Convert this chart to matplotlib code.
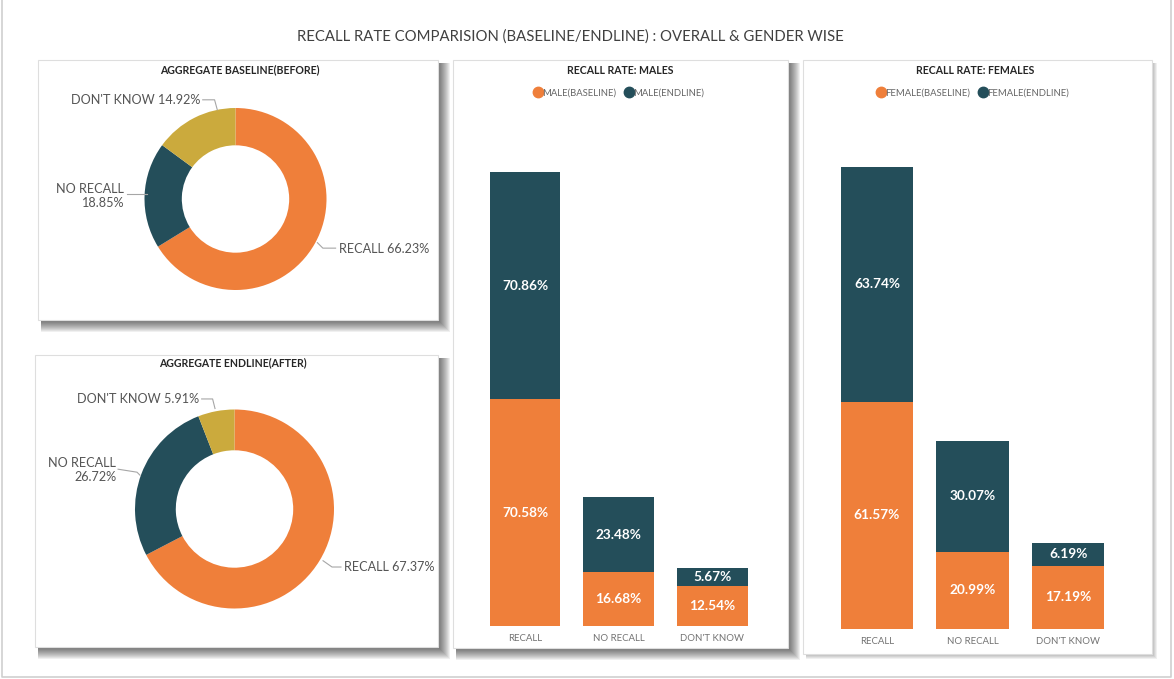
import matplotlib
matplotlib.use('Agg')
import matplotlib.pyplot as plt
from matplotlib.patches import Rectangle
from matplotlib.lines import Line2D

plt.rcParams['font.family'] = ['Lato', 'DejaVu Sans']

# Recall rates (%) per answer category
categories = ['RECALL', 'NO RECALL', "DON'T KNOW"]
baseline_overall = [66.23, 18.85, 14.92]
endline_overall = [67.37, 26.72, 5.91]
male_baseline = [70.58, 16.68, 12.54]
male_endline = [70.86, 23.48, 5.67]
female_baseline = [61.57, 20.99, 17.19]
female_endline = [63.74, 30.07, 6.19]

ORANGE = '#EF7F3A'
TEAL = '#244E5A'
GOLD = '#CBAA3D'
LABEL_GREY = '#555555'

W, H = 1174, 679
fig = plt.figure(figsize=(W / 100, H / 100), dpi=100)


def rect(x0, y0, x1, y1):
    # pixel box (top-left origin) -> figure fraction [left, bottom, width, height]
    return [x0 / W, 1 - y1 / H, (x1 - x0) / W, (y1 - y0) / H]


def panel(x0, y0, x1, y1, depth=12):
    for d in range(depth, 0, -1):
        l, b, w, h = rect(x0 + 3, y0 + 3, x1 + d, y1 + d)
        fig.add_artist(Rectangle((l, b), w, h, transform=fig.transFigure,
                                 facecolor='black', edgecolor='none', alpha=0.06, zorder=-3))
    l, b, w, h = rect(x0, y0, x1, y1)
    fig.add_artist(Rectangle((l, b), w, h, transform=fig.transFigure,
                             facecolor='white', edgecolor='#dedede', lw=0.8, zorder=-2))


# outer frame
fig.add_artist(Line2D([2 / W, 2 / W, 1171 / W, 1171 / W], [1, 1 - 677 / H, 1 - 677 / H, 1],
                      transform=fig.transFigure, color='#cfcfcf', lw=1.2, zorder=-4))

panel(38, 60, 438, 320)
panel(35, 355, 438, 647)
panel(453, 60, 788, 648)
panel(803, 60, 1152, 654, depth=5)

fig.text(570 / W, 1 - 37 / H, 'RECALL RATE COMPARISION (BASELINE/ENDLINE) : OVERALL & GENDER WISE',
         ha='center', va='center', fontsize=10.7, color='#404040')


def donut(values, cx, cy, r, title, title_xy, labels):
    k = 1.9
    ax = fig.add_axes(rect(cx - k * r, cy - k * r, cx + k * r, cy + k * r))
    ax.pie(values, colors=[ORANGE, TEAL, GOLD], startangle=90, counterclock=False,
           radius=1, wedgeprops=dict(width=0.41, edgecolor='none'))
    ax.set_xlim(-k, k)
    ax.set_ylim(-k, k)
    ax.set_aspect('equal')
    ax.axis('off')
    ax.patch.set_alpha(0)
    for (tx, ty, ha, path), cat, val in zip(labels, categories, values):
        name = 'NO RECALL\n' if cat == 'NO RECALL' else cat + ' '
        ax.text(tx, ty, f'{name}{val:.2f}%', ha=ha, va='center', fontsize=9.1,
                color=LABEL_GREY, linespacing=1.2, multialignment='right')
        xs, ys = zip(*path)
        ax.plot(xs, ys, color='#a6a6a6', lw=0.8)
    fig.text(title_xy[0] / W, 1 - title_xy[1] / H, title, ha='center', va='center',
             fontsize=7.6, fontweight='bold', color='#262626')


donut(baseline_overall, 235.5, 199, 91, 'AGGREGATE BASELINE(BEFORE)', (240, 70), [
    (1.14, -0.55, 'left', [(0.90, -0.48), (0.96, -0.54), (1.10, -0.54)]),
    (-1.225, 0.03, 'right', [(-1.19, 0.055), (-0.97, 0.055)]),
    (-0.39, 1.09, 'right', [(-0.36, 1.09), (-0.23, 1.09), (-0.20, 0.98)]),
])
donut(endline_overall, 234.5, 509, 99.5, 'AGGREGATE ENDLINE(AFTER)', (233, 363), [
    (1.10, -0.583, 'left', [(0.89, -0.52), (0.98, -0.583), (1.07, -0.583)]),
    (-1.19, 0.39, 'right', [(-1.17, 0.40), (-0.98, 0.37), (-0.95, 0.34)]),
    (-0.357, 1.106, 'right', [(-0.33, 1.106), (-0.22, 1.106), (-0.196, 1.01)]),
])


def stacked(base, end, box, ymax, title, title_x, legend_x, names):
    ax = fig.add_axes(rect(*box))
    ax.patch.set_alpha(0)
    x = range(len(categories))
    b1 = ax.bar(x, base, width=0.755, color=ORANGE)
    b2 = ax.bar(x, end, width=0.755, bottom=base, color=TEAL)
    for bars in (b1, b2):
        ax.bar_label(bars, labels=[f'{v:.2f}%' for v in bars.datavalues], label_type='center',
                     color='white', fontsize=9.8, fontweight='bold')
    ax.set_xlim(-0.7, 2.7)
    ax.set_ylim(0, ymax)
    ax.set_yticks([])
    ax.set_xticks(list(x))
    ax.set_xticklabels(categories, fontsize=6.9, color='#737373')
    ax.tick_params(axis='x', length=0, pad=6)
    for s in ax.spines.values():
        s.set_visible(False)
    fig.text(title_x / W, 1 - 70 / H, title, ha='center', va='center',
             fontsize=7.6, fontweight='bold', color='#262626')
    handles = [Line2D([], [], marker='o', ls='', color=c, markersize=7.5, label=n)
               for c, n in zip([ORANGE, TEAL], names)]
    fig.legend(handles=handles, ncol=2, loc='center', bbox_to_anchor=(legend_x / W, 1 - 93 / H),
               frameon=False, fontsize=6.8, handletextpad=0.1, columnspacing=0.9,
               handlelength=0.8, labelcolor='#666666', borderpad=0)


stacked(male_baseline, male_endline, (459.4, 160, 778, 626), (626 - 160) / 3.21,
        'RECALL RATE: MALES', 620, 619, ['MALE(BASELINE)', 'MALE(ENDLINE)'])
stacked(female_baseline, female_endline, (810, 160, 1135, 629), (629 - 160) / 3.69,
        'RECALL RATE: FEMALES', 975, 973, ['FEMALE(BASELINE)', 'FEMALE(ENDLINE)'])

fig.savefig('out.png', dpi=100, facecolor='white')
